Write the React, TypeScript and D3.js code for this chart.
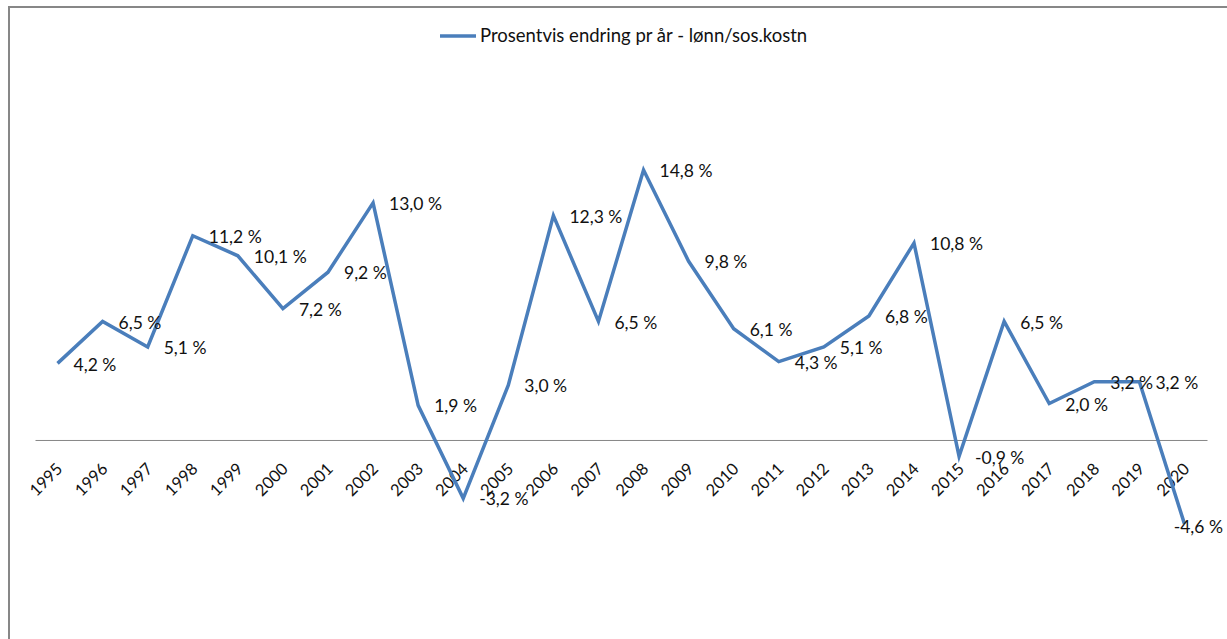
import * as d3 from "d3";
import { useEffect, useRef } from "react";

const years = [
  "1995", "1996", "1997", "1998", "1999", "2000", "2001", "2002", "2003",
  "2004", "2005", "2006", "2007", "2008", "2009", "2010", "2011", "2012",
  "2013", "2014", "2015", "2016", "2017", "2018", "2019", "2020",
];
const change = [
  4.2, 6.5, 5.1, 11.2, 10.1, 7.2, 9.2, 13.0, 1.9, -3.2, 3.0, 12.3, 6.5, 14.8,
  9.8, 6.1, 4.3, 5.1, 6.8, 10.8, -0.9, 6.5, 2.0, 3.2, 3.2, -4.6,
];
const seriesName = "Prosentvis endring pr år - lønn/sos.kostn";

const fmt = (v: number) => v.toFixed(1).replace(".", ",") + " %";

export default function App() {
  const ref = useRef<SVGSVGElement | null>(null);

  useEffect(() => {
    const el = ref.current;
    if (!el) return;
    const svg = d3.select(el);
    svg.selectAll("*").remove();

    const W = 1227;
    const H = 639;
    const font = "Lato, 'Open Sans', sans-serif";
    const ink = "#111";
    const blue = "#4A7EBB";
    const grey = "#868686";

    const x = d3.scaleBand().domain(years).range([35, 1207]);
    const y = d3.scaleLinear().domain([-6, 16]).range([549.4, 148.2]);
    const cx = (yr: string) => (x(yr) ?? 0) + x.bandwidth() / 2;

    svg.attr("viewBox", `0 0 ${W} ${H}`).attr("width", W).attr("height", H);

    svg.append("rect").attr("width", W).attr("height", H).attr("fill", "#fff");

    // chart frame (only top and left edges are visible)
    svg.append("path")
      .attr("d", `M9,${H}V7H${W}`)
      .attr("fill", "none")
      .attr("stroke", "#878787")
      .attr("stroke-width", 2);

    // legend
    const lg = svg.append("g").attr("transform", "translate(440,36)");
    lg.append("line")
      .attr("x1", 0).attr("x2", 36)
      .attr("stroke", blue).attr("stroke-width", 3.5);
    lg.append("text")
      .attr("x", 40).attr("dy", "0.35em")
      .attr("font-family", font).attr("font-size", 18.5).attr("fill", ink)
      .text(seriesName);

    // category axis on the zero line
    svg.append("g")
      .attr("transform", `translate(0,${y(0)})`)
      .call(d3.axisBottom(x).tickSize(0).tickSizeOuter(0))
      .call((ga) => ga.select(".domain").attr("stroke", grey).attr("stroke-width", 1))
      .call((ga) =>
        ga.selectAll(".tick text")
          .attr("x", 0).attr("y", 0).attr("dy", "0.35em")
          .attr("transform", "translate(2,26) rotate(-45)")
          .attr("text-anchor", "end")
          .attr("font-family", font).attr("font-size", 16.5).attr("fill", ink),
      );

    const pts = years.map((yr, i) => ({ yr, v: change[i] }));

    const line = d3.line<{ yr: string; v: number }>()
      .x((d) => cx(d.yr))
      .y((d) => y(d.v));

    svg.append("path")
      .datum(pts)
      .attr("d", line)
      .attr("fill", "none")
      .attr("stroke", blue)
      .attr("stroke-width", 3.5)
      .attr("stroke-linejoin", "miter");

    const labels = svg.append("g")
      .selectAll("text")
      .data(pts)
      .join("text")
      .attr("x", (d) => cx(d.yr) + 16)
      .attr("y", (d) => y(d.v) + 1)
      .attr("dy", "0.35em")
      .attr("font-family", font).attr("font-size", 17.5).attr("fill", ink)
      .text((d) => fmt(d.v));

    // keep labels inside the chart area, like the spreadsheet does
    labels.each(function () {
      const t = this as SVGTextElement;
      const len = t.getComputedTextLength();
      const x0 = +(t.getAttribute("x") ?? 0);
      if (x0 + len > W - 4) {
        t.setAttribute("x", String(W - 4 - len));
        t.setAttribute("y", String(+(t.getAttribute("y") ?? 0) + 2));
      }
    });
  }, []);

  return (
    <svg
      ref={ref}
      style={{ position: "absolute", left: 0, top: 0, display: "block" }}
    />
  );
}
